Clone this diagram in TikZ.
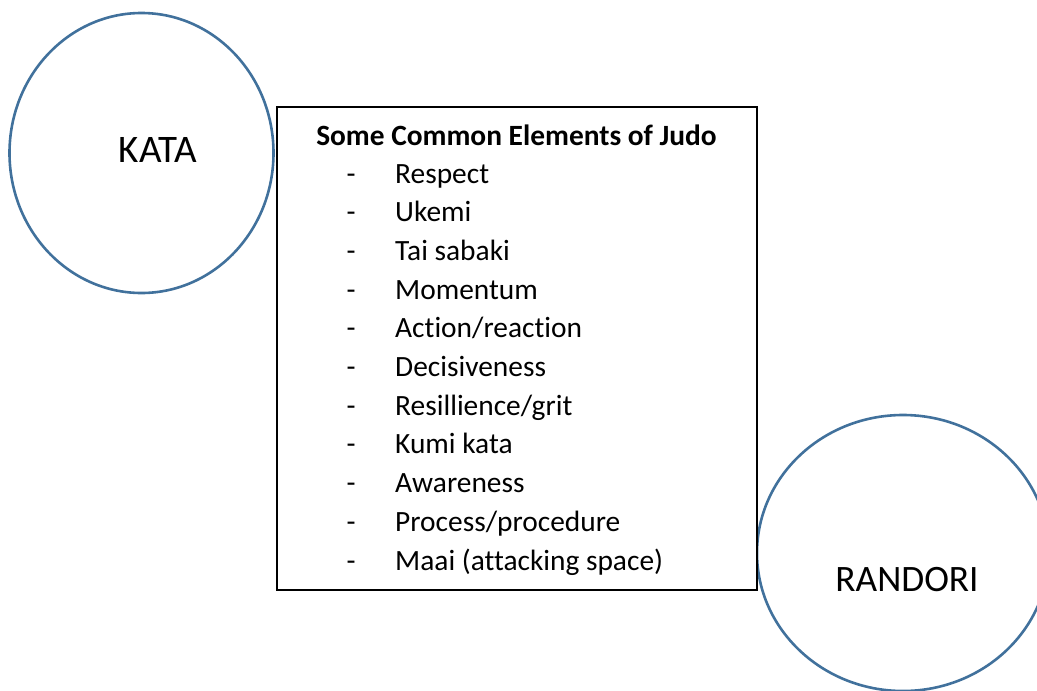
\documentclass[tikz,border=0pt]{standalone}
\usepackage{fontspec}
\setmainfont{Carlito}[Ligatures={NoCommon}]
\usetikzlibrary{shapes.geometric}
\definecolor{circblue}{HTML}{41719C}
\tikzset{
  ring/.style={ellipse, draw=circblue, line width=2.6pt, inner sep=0pt},
  bigtxt/.style={font=\fontsize{39}{44}\selectfont, inner sep=0pt, anchor=base},
  item/.style={font=\fontsize{29.4}{34}\selectfont, inner sep=0pt, anchor=base west},
  dashmark/.style={font=\fontsize{29.4}{34}\selectfont, inner sep=0pt, anchor=base},
  panel/.style={draw=black, line width=1.4pt}
}
\begin{document}
\begin{tikzpicture}[x=1pt,y=-1pt]
\useasboundingbox (0,0) rectangle (1037,691);
% circles
\node[ring, minimum width=264pt, minimum height=280pt] (kata) at (141.5,153) {};
\node[bigtxt] (katatxt) at (158,162) {KATA};
\node[ring, minimum width=292pt, minimum height=276pt] (randori) at (903,553) {};
\node[bigtxt, font=\fontsize{37.3}{42}\selectfont] (randoritxt) at (907,591) {RANDORI};
% box
\node[panel, fill=white, minimum width=480pt, minimum height=483pt, inner sep=0pt] (box) at (517,348.5) {};
\node[font=\fontsize{29.4}{34}\selectfont\bfseries, inner sep=0pt, anchor=base] (title) at (516.5,145) {Some Common Elements of Judo};
\foreach \t [count=\i] in {Respect,Ukemi,Tai sabaki,Momentum,Action/reaction,Decisiveness,Resillience/grit,Kumi kata,Awareness,Process/procedure,Maai (attacking space)} {
  \node[dashmark] (d\i) at (351,{183.3+38.67*(\i-1)}) {-};
  \node[item] (it\i) at (395,{183.3+38.67*(\i-1)}) {\t};
}
\end{tikzpicture}
\end{document}
